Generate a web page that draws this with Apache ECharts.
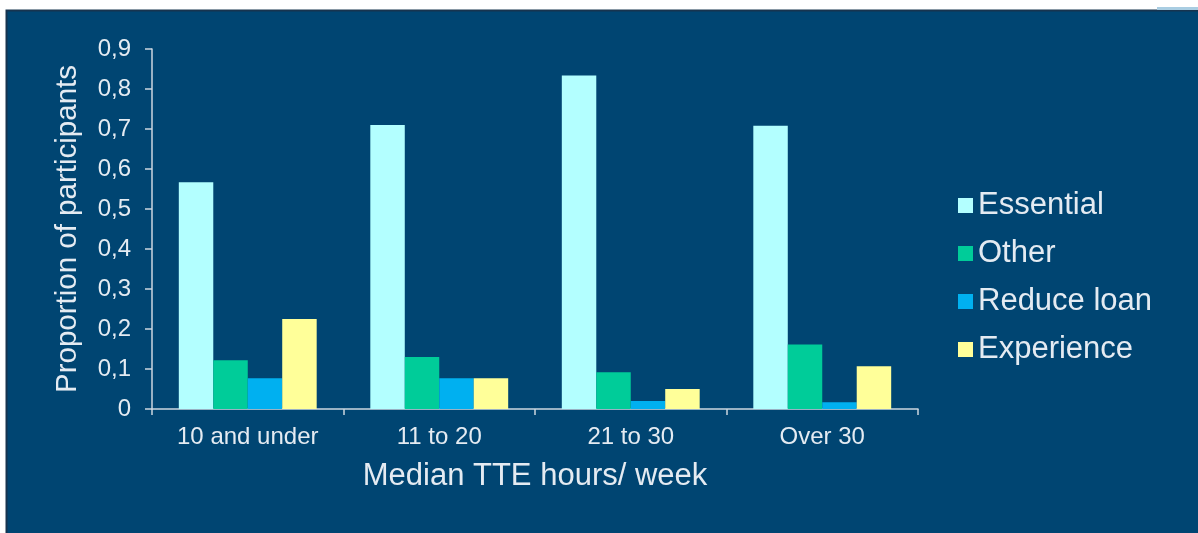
<!DOCTYPE html>
<html>
<head>
<meta charset="utf-8">
<script src="https://cdn.jsdelivr.net/npm/echarts@6/dist/echarts.min.js"></script>
<style>
  html, body { margin: 0; padding: 0; background: #fff; }
  #chart { width: 1198px; height: 533px; }
</style>
</head>
<body>
<div id="chart"></div>
<script>
const categories = ['10 and under', '11 to 20', '21 to 30', 'Over 30']
const seriesNames = ['Essential', 'Other', 'Reduce loan', 'Experience']
const essential = [0.567, 0.71, 0.834, 0.708]
const other = [0.122, 0.13, 0.092, 0.161]
const reduceLoan = [0.077, 0.077, 0.02, 0.017]
const experience = [0.225, 0.077, 0.05, 0.107]
const colors = ['#b3ffff', '#00cc99', '#00b0f0', '#ffff99']

const textColor = '#e4ebf2'
const lineColor = '#ccd6e0'
const font = 'Liberation Sans, Arial, sans-serif'

const chart = echarts.init(document.getElementById('chart'))

const values = [essential, other, reduceLoan, experience]

chart.setOption({
  animation: false,
  backgroundColor: '#ffffff',
  textStyle: { fontFamily: font },
  graphic: [
    {
      type: 'rect',
      silent: true,
      z: -10,
      shape: { x: 6.5, y: 10.5, width: 1200, height: 530 },
      style: { fill: '#004572', stroke: '#17344f', lineWidth: 2 }
    },
    {
      type: 'rect',
      silent: true,
      z: -9,
      shape: { x: 1157, y: 7, width: 41, height: 3 },
      style: { fill: '#a9cde2' }
    }
  ],
  grid: {
    left: 152,
    right: 280,
    top: 49,
    bottom: 124,
    containLabel: false
  },
  legend: {
    orient: 'vertical',
    left: 953,
    top: 185,
    itemWidth: 15,
    itemHeight: 15,
    itemGap: 17,
    itemTextGap: 10,
    icon: 'rect',
    data: seriesNames,
    textStyle: { color: textColor, fontSize: 31, lineHeight: 31, fontFamily: font }
  },
  xAxis: {
    type: 'category',
    data: categories,
    name: 'Median TTE hours/ week',
    nameLocation: 'middle',
    nameGap: 52,
    nameTextStyle: { color: textColor, fontSize: 31, fontFamily: font },
    axisLine: { lineStyle: { color: lineColor, width: 1.5 } },
    axisTick: { show: true, length: 6, lineStyle: { color: lineColor, width: 1.5 } },
    axisLabel: { color: textColor, fontSize: 24, margin: 16, fontFamily: font },
    splitLine: { show: false }
  },
  yAxis: {
    type: 'value',
    min: 0,
    max: 0.9,
    interval: 0.1,
    name: 'Proportion of participants',
    nameLocation: 'middle',
    nameGap: 69,
    nameTextStyle: { color: textColor, fontSize: 29.5, fontFamily: font },
    axisLine: { show: true, lineStyle: { color: lineColor, width: 1.5 } },
    axisTick: { show: true, length: 7, lineStyle: { color: lineColor, width: 1.5 } },
    axisLabel: {
      color: textColor,
      fontSize: 24,
      margin: 21,
      fontFamily: font,
      formatter: (v) => (v === 0 ? '0' : v.toFixed(1).replace('.', ','))
    },
    splitLine: { show: false }
  },
  series: seriesNames.map((name, i) => ({
    name,
    type: 'bar',
    data: values[i],
    barGap: '0%',
    barCategoryGap: '28%',
    itemStyle: { color: colors[i] }
  }))
})
</script>
</body>
</html>
